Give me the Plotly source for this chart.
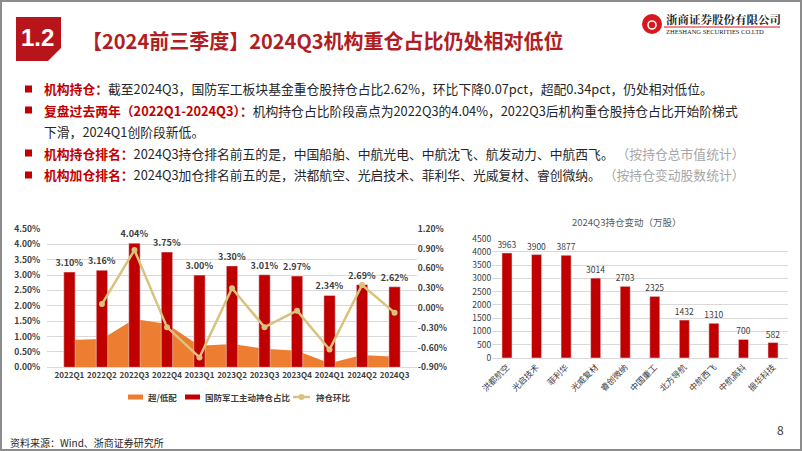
import plotly.graph_objects as go

W, H = 802, 451


def px(x):
    return x / W


def py(y):
    return 1 - y / H


# ---------------- data ----------------
quarters = ["2022Q1", "2022Q2", "2022Q3", "2022Q4", "2023Q1", "2023Q2",
            "2023Q3", "2023Q4", "2024Q1", "2024Q2", "2024Q3"]
holding_pct = [3.10, 3.16, 4.04, 3.75, 3.00, 3.30, 3.01, 2.97, 2.34, 2.69, 2.62]
overweight_pct = [0.89, 0.92, 1.57, 1.41, 0.70, 0.76, 0.60, 0.54, 0.13, 0.40, 0.34]
qoq_change_pct = [None, 0.06, 0.88, -0.29, -0.75, 0.30, -0.29, -0.04, -0.63, 0.35, -0.07]
left_ticks = [0, 0.5, 1.0, 1.5, 2.0, 2.5, 3.0, 3.5, 4.0, 4.5]
right_ticks = [-0.9, -0.6, -0.3, 0.0, 0.3, 0.6, 0.9, 1.2]

stocks = ["洪都航空", "光启技术", "菲利华", "光威复材", "睿创微纳",
          "中国重工", "北方导航", "中航西飞", "中航高科", "振华科技"]
share_change = [3963, 3900, 3877, 3014, 2703, 2325, 1432, 1310, 700, 582]
share_ticks = [0, 500, 1000, 1500, 2000, 2500, 3000, 3500, 4000, 4500]

legend_names = ["超/低配", "国防军工主动持仓占比", "持仓环比"]

# ---------------- styles ----------------
FONT = "Noto Sans CJK SC, Microsoft YaHei, sans-serif"
RED = "#C00000"
ORANGE = "#ED7D31"
TAN = "#D9C27C"
GRID = "#D9D9D9"
TXT = "#404040"

fig = go.Figure()

fig.add_trace(go.Scatter(
    x=quarters, y=overweight_pct, name=legend_names[0], mode="lines",
    fill="tozeroy", fillcolor=ORANGE, line=dict(width=0, color=ORANGE),
    xaxis="x", yaxis="y", hoverinfo="skip"))

fig.add_trace(go.Bar(
    x=quarters, y=holding_pct, name=legend_names[1], xaxis="x", yaxis="y2",
    marker_color=RED, width=0.35,
    text=[f"{v:.2f}%" for v in holding_pct], textposition="outside",
    constraintext="none",
    textfont=dict(size=9, color=TXT, family=FONT, weight="bold"),
    cliponaxis=False))

fig.add_trace(go.Scatter(
    x=quarters, y=qoq_change_pct, name=legend_names[2], mode="lines+markers",
    line=dict(color=TAN, width=2.5), marker=dict(size=6, color=TAN),
    xaxis="x", yaxis="y3"))

fig.add_trace(go.Bar(
    x=stocks, y=share_change, xaxis="x2", yaxis="y4", marker_color=RED,
    width=0.34, text=[str(v) for v in share_change], textposition="outside",
    constraintext="none",
    textfont=dict(size=8.5, color=TXT, family=FONT), cliponaxis=False))

tick_font_b = dict(size=8.5, color=TXT, family=FONT, weight="bold")

fig.update_layout(
    width=W, height=H, margin=dict(l=0, r=0, t=0, b=0, autoexpand=False),
    paper_bgcolor="white", plot_bgcolor="white", showlegend=False,
    font=dict(family=FONT, color=TXT),
    barmode="overlay",
    xaxis=dict(domain=[px(47.2), px(416.8)], anchor="y", type="category",
               tickfont=dict(size=8, color=TXT, family=FONT, weight="bold"),
               showline=True, linecolor=GRID, tickangle=0,
               ticks="", showgrid=False, automargin=False),
    yaxis=dict(range=[0, 4.5], domain=[py(367.3), py(229)], anchor="x",
               tickvals=left_ticks, ticktext=[f"{v:.2f}%" for v in left_ticks],
               showgrid=True, gridcolor=GRID, zeroline=False, automargin=False,
               tickfont=tick_font_b, ticklabelstandoff=6),
    yaxis2=dict(range=[0, 4.5], overlaying="y", anchor="x", visible=False,
                automargin=False),
    yaxis3=dict(range=[-0.9, 1.2], overlaying="y", anchor="x", side="right",
                tickvals=right_ticks, ticktext=[f"{v:.2f}%" for v in right_ticks],
                showgrid=False, zeroline=False, tickfont=tick_font_b,
                automargin=False),
    xaxis2=dict(domain=[px(492.2), px(787.8)], anchor="y4", type="category",
                tickangle=-45, tickfont=dict(size=8.5, color=TXT, family=FONT),
                showline=True, linecolor=GRID, ticks="", showgrid=False,
                automargin=False),
    yaxis4=dict(range=[0, 4500], domain=[py(358), py(238.7)], anchor="x2",
                tickvals=share_ticks, showgrid=True, gridcolor=GRID,
                zeroline=False, automargin=False,
                tickfont=dict(size=8.5, color=TXT, family=FONT)),
)

shapes = []
ann = []


def note(x, y, text, font, xanchor="left", yanchor="middle"):
    ann.append(dict(x=px(x), y=py(y), xref="paper", yref="paper", text=text,
                    showarrow=False, xanchor=xanchor, yanchor=yanchor, font=font))


def pshape(**kw):
    kw.setdefault("xref", "paper")
    kw.setdefault("yref", "paper")
    shapes.append(kw)


# slide border
pshape(type="rect", x0=px(1), x1=px(801), y0=py(450), y1=py(1),
       line=dict(color="#8C8C8C", width=2))

# badge
bx0, bx1, by0, by1 = 16, 61, 17, 61
path = (f"M {px(bx0)} {py(by0)} L {px(bx1)} {py(by0)} L {px(bx1)} {py(48)} "
        f"L {px(48)} {py(by1)} L {px(bx0)} {py(by1)} Z")
pshape(type="path", path=path, fillcolor="#B8141C", line=dict(width=0))
note(37, 37, "1.2", dict(size=24, color="white", family="Liberation Sans", weight="bold"),
     xanchor="center")

# title
note(80, 40, "【2024前三季度】2024Q3机构重仓占比仍处相对低位",
     dict(size=20, color="#B01E23", family=FONT, weight="bold"))

# logo
pshape(type="circle", x0=px(642), x1=px(662), y0=py(34), y1=py(14),
       fillcolor="#D7191F", line=dict(width=0))
pshape(type="circle", x0=px(648), x1=px(656), y0=py(29), y1=py(21),
       fillcolor="rgba(0,0,0,0)", line=dict(width=1.6, color="white"))
pshape(type="line", x0=px(664), x1=px(780), y0=py(27), y1=py(27),
       line=dict(width=1, color="#D7191F"))
note(664, 19, "浙商证券股份有限公司",
     dict(size=11.5, color="#222222", family="Noto Serif CJK SC, Noto Sans CJK SC", weight="bold"))
note(664, 32, "ZHESHANG SECURITIES CO.LTD",
     dict(size=6.5, color="#222222", family="Liberation Serif"))

# bullets
BODY = "#262626"
GRAY = "#A6A6A6"


def red(s):
    return f"<span style='color:{RED}'><b>{s}</b></span>"


def gray(s):
    return f"<span style='color:{GRAY}'>{s}</span>"


lines = [
    (89, True, red("机构持仓：") + "截至2024Q3，国防军工板块基金重仓股持仓占比2.62%，环比下降0.07pct，超配0.34pct，仍处相对低位。"),
    (110, True, red("复盘过去两年（2022Q1-2024Q3）：") + "机构持仓占比阶段高点为2022Q3的4.04%，2022Q3后机构重仓股持仓占比开始阶梯式"),
    (131, False, "下滑，2024Q1创阶段新低。"),
    (153, True, red("机构持仓排名：") + "2024Q3持仓排名前五的是，中国船舶、中航光电、中航沈飞、航发动力、中航西飞。 " + gray("（按持仓总市值统计）")),
    (175, True, red("机构加仓排名：") + "2024Q3加仓排名前五的是，洪都航空、光启技术、菲利华、光威复材、睿创微纳。 " + gray("（按持仓变动股数统计）")),
]
for yy, bullet, txt in lines:
    if bullet:
        pshape(type="rect", x0=px(25), x1=px(32), y0=py(yy + 3.5), y1=py(yy - 3.5),
               fillcolor=RED, line=dict(width=0))
    note(42, yy, txt, dict(size=12.8, color=BODY, family=FONT))

# left chart legend (manual)
LY = 397
pshape(type="rect", x0=px(128), x1=px(143), y0=py(LY + 2.5), y1=py(LY - 2.5),
       fillcolor=ORANGE, line=dict(width=0))
pshape(type="rect", x0=px(185), x1=px(200), y0=py(LY + 2.5), y1=py(LY - 2.5),
       fillcolor=RED, line=dict(width=0))
pshape(type="line", x0=px(293), x1=px(310), y0=py(LY), y1=py(LY),
       line=dict(width=2.5, color=TAN))
pshape(type="circle", x0=px(298.5), x1=px(304.5), y0=py(LY + 3), y1=py(LY - 3),
       fillcolor=TAN, line=dict(width=0))
leg_font = dict(size=8.5, color=TXT, family=FONT, weight="bold")
for xx, name in zip([146, 203, 314], legend_names):
    note(xx, LY, name, leg_font)

# right chart title
note(626, 222, "2024Q3持仓变动（万股）", dict(size=9.5, color="#595959", family=FONT),
     xanchor="center")

# footer
note(8, 442, "资料来源：Wind、浙商证券研究所", dict(size=10, color="#262626", family=FONT))
note(780, 429, "8", dict(size=12, color=TXT, family=FONT), xanchor="center")

fig.update_layout(shapes=shapes, annotations=ann)

fig.write_html("out.html", config={"displayModeBar": False},
               post_script="document.body.style.margin='0';document.body.style.overflow='hidden';")
